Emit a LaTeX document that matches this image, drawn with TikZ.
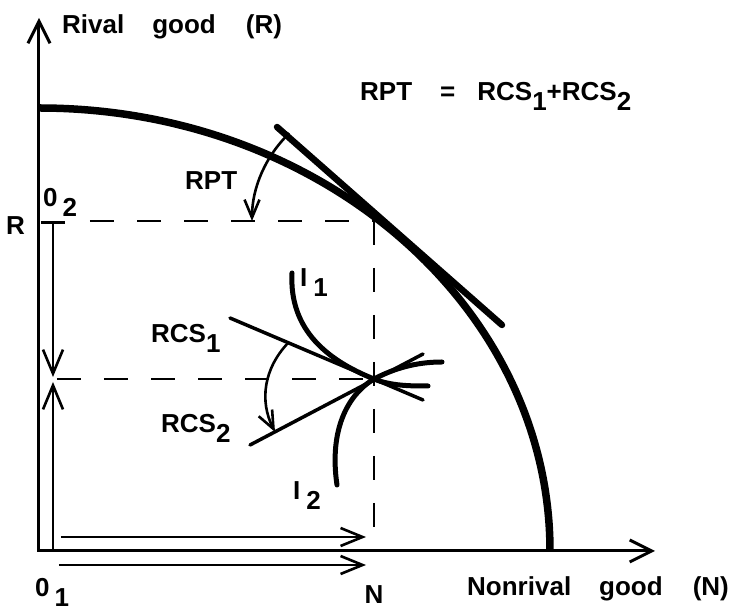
\documentclass[tikz,border=0pt]{standalone}
\usepackage{fontspec}
\setmainfont{Liberation Sans}
\usetikzlibrary{arrows.meta}
\newcommand{\lowr}[1]{\raisebox{-10pt}{#1}}
\begin{document}
\begin{tikzpicture}[x=1pt,y=1pt,font=\fontsize{26}{29}\selectfont\bfseries,
  ax/.style={line width=3pt,{Straight Barb[length=22pt,width=22pt]}-{Straight Barb[length=22pt,width=22pt]}},
  frt/.style={line width=7.5pt},
  tgt/.style={line width=6.5pt,line cap=round},
  ic/.style={line width=5pt,line cap=round},
  rcs/.style={line width=3.5pt,line cap=round},
  dsh/.style={line width=2.8pt,dash pattern=on 24pt off 23pt},
  harr/.style={line width=2.6pt,-{Straight Barb[length=22pt,width=18pt]}},
  ang/.style={line width=2.6pt,-{Straight Barb[length=18pt,width=15pt]}},
  lbl/.style={inner sep=0pt,anchor=base west}]
  \useasboundingbox (-39,-65) rectangle (701,551);
  \coordinate (O) at (0,0);
  \coordinate (ytip) at (0,533);
  \coordinate (xtip) at (616,0);
  \coordinate (Rmax) at (0,443);
  \coordinate (T) at (335,330);
  \coordinate (E) at (335,172);
  \draw[ax] (ytip) -- (O) -- (xtip);
  \draw[frt] (Rmax) arc[start angle=90,end angle=0,x radius=511,y radius=443];
  \coordinate (ta) at (238,424);
  \coordinate (tb) at (463,226);
  \draw[tgt] (ta) -- (tb);
  \coordinate (d1) at (51,330);
  \coordinate (d2) at (18,172);
  \draw[dsh] (d1) -- (T);
  \draw[dsh] (T) -- (T |- O);
  \draw[dsh] (d2) -- (E);
  \coordinate (o2) at (14,330);
  \coordinate (m1) at (14,174);
  \coordinate (m2) at (14,169);
  \coordinate (o1) at (14,2);
  \draw[harr,{Bar[width=24pt]}-{Straight Barb[length=24pt,width=20pt]}] (o2) -- (m1);
  \draw[harr,-{Straight Barb[length=24pt,width=20pt]}] (o1) -- (m2);
  \coordinate (h1a) at (22,14);
  \coordinate (h1b) at (327,14);
  \coordinate (h2a) at (20,-14);
  \coordinate (h2b) at (327,-14);
  \draw[harr] (h1a) -- (h1b);
  \draw[harr] (h2a) -- (h2b);
  \coordinate (r1a) at (191,233);
  \coordinate (r1b) at (384,151);
  \coordinate (r2a) at (211,106);
  \coordinate (r2b) at (384,197);
  \draw[rcs] (r1a) -- (r1b);
  \draw[rcs] (r2a) -- (r2b);
  \coordinate (i1a) at (253,278);
  \coordinate (i1b) at (389,165);
  \coordinate (i2a) at (298,66);
  \coordinate (i2b) at (403,189);
  \draw[ic] (i1a) .. controls (250,220) and (290,190) .. (E) .. controls (352,165) and (372,165) .. (i1b);
  \draw[ic] (i2a) .. controls (290,120) and (308,156) .. (E) .. controls (356,183) and (378,189) .. (i2b);
  \draw[ang] ([shift={(134:122)}]T) arc[start angle=134,end angle=180,radius=122];
  \coordinate (s1) at (249,208);
  \coordinate (s2) at (236,119);
  \draw[ang] (s1) to[bend right=35] (s2);
  \node[lbl] (ylab) at (23,517) {Rival\hspace{28pt}good\hspace{30pt}(R)};
  \node[lbl] (xlab) at (428,-45) {Nonrival\hspace{28pt}good\hspace{30pt}(N)};
  \node[lbl] (eq) at (321,450) {RPT\hspace{28pt}=\hspace{22pt}RCS\lowr{1}+RCS\lowr{2}};
  \node[lbl] (rpt) at (146,361) {RPT};
  \node[lbl] (rlab) at (-33,316) {R};
  \node[lbl] (o2lab) at (4,344) {0\hspace{5pt}\lowr{2}};
  \node[lbl] (o1lab) at (-4,-46) {0\hspace{5pt}\lowr{1}};
  \node[lbl,anchor=base] (nlab) at (335,-53) {N};
  \node[lbl] (i1lab) at (261,264) {I\hspace{6pt}\lowr{1}};
  \node[lbl] (i2lab) at (254,51) {I\hspace{6pt}\lowr{2}};
  \node[lbl] (rcs1lab) at (112,208) {RCS\lowr{1}};
  \node[lbl] (rcs2lab) at (122,118) {RCS\lowr{2}};
\end{tikzpicture}
\end{document}
